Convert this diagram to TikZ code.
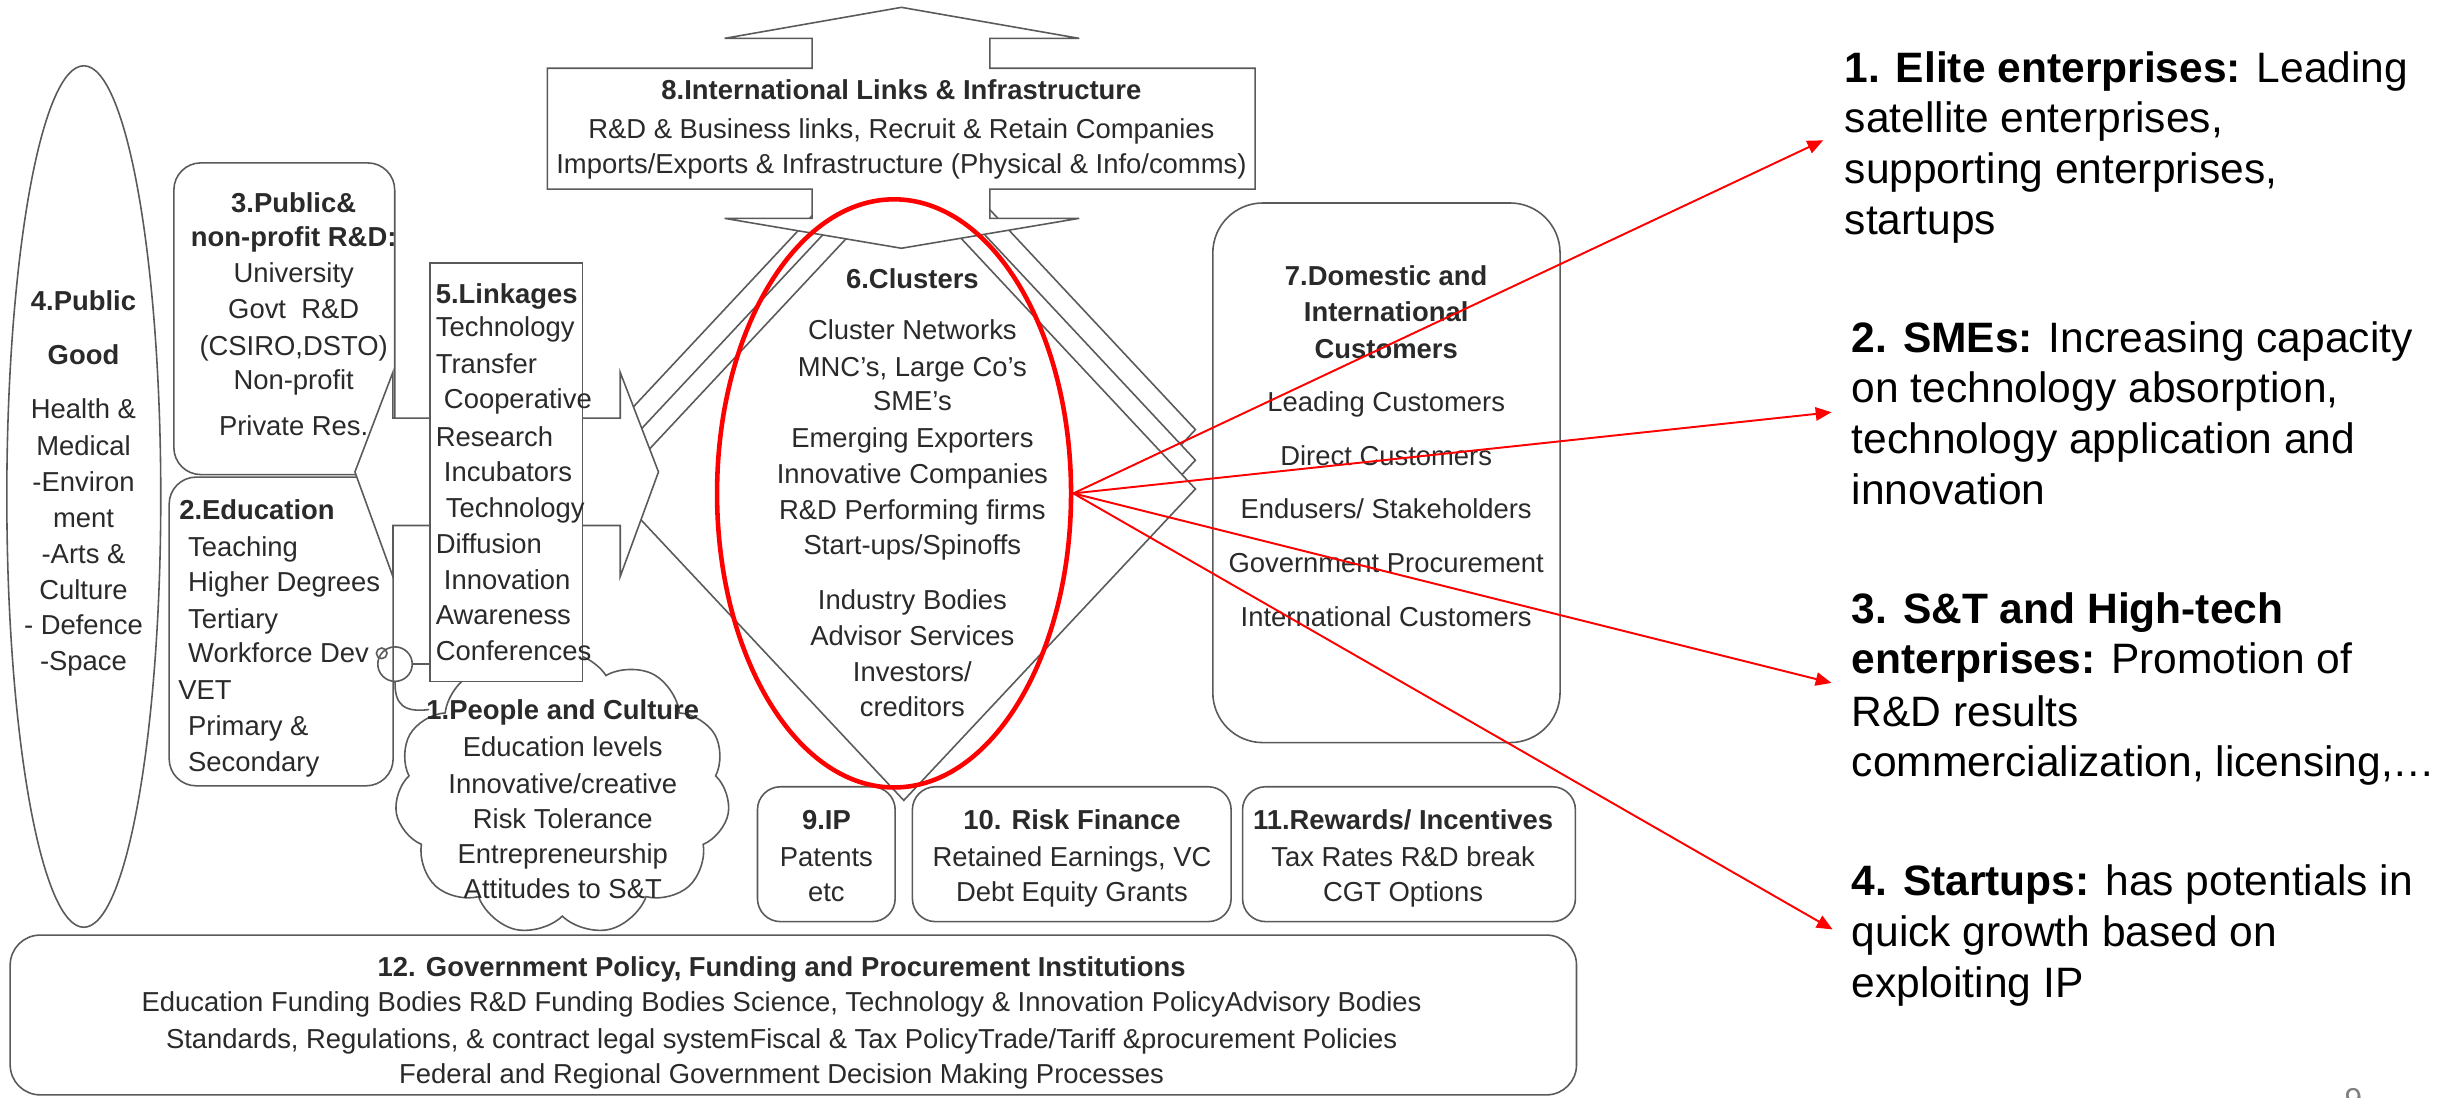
\documentclass[tikz,border=0pt]{standalone}
\usepackage{fontspec}
\setmainfont{Liberation Sans}
\usetikzlibrary{shapes.geometric,shapes.symbols,fit,arrows.meta}
\definecolor{lc}{HTML}{5A5A5A}
\definecolor{txc}{HTML}{2A2A2A}
\definecolor{rd}{HTML}{FF0000}
\def\U{0.15663mm}
\begin{document}
\begin{tikzpicture}[x=0.15663mm, y=-0.15663mm,
  ln/.style={draw=lc, line width=0.45pt},
  bx/.style={ln, fill=white, inner sep=0pt},
  tx/.style={font=\fontsize{7.8}{9}\selectfont, text=txc, inner sep=0pt, text height=5.6pt, text depth=0pt},
  rt/.style={font=\fontsize{12.1}{14.5}\selectfont, inner sep=0pt, text height=8.7pt, text depth=0pt, anchor=west, text=black},
  redarrow/.style={draw=rd, line width=0.55pt, -{Triangle[length=4.5pt,width=3.8pt]}}
]
\useasboundingbox (0,0) rectangle (1568,701);
\fill[white] (0,0) rectangle (1568,701);

% 4. Public good
\node[ellipse, ln, minimum width=98.3*\U, minimum height=550*\U, inner sep=0pt] (pg) at (53.5,317) {};
\foreach \t/\yy [count=\i] in {{\textbf{4.Public}}/192.2, {\textbf{Good}}/226.4, {Health \&}/260.6, {Medical}/284.4, {-Environ}/307.2, {ment}/330.7, {-Arts \&}/353.5, {Culture}/376.3, {- Defence}/399.1, {-Space}/421.9}
  \node[tx] (pg-\i) at (53.3,\yy) {\t};

% 3 and 2
\node[bx, rounded corners=2.7mm, fit={(111,104) (252,303)}] (b3) {};
\node[bx, rounded corners=2.7mm, fit={(108,304.6) (251,501.7)}] (b2) {};
\foreach \t/\yy [count=\i] in {{\textbf{3.Public\&}}/129.7, {\textbf{non-profit R\&D:}}/151.4, {University}/174.3, {Govt\ \ R\&D}/197, {(CSIRO,DSTO)}/220.9, {Non-profit}/242.7, {Private Res.}/272}
  \node[tx] (b3-\i) at (187.5,\yy) {\t};
\foreach \t/\xx/\yy [count=\i] in {{\textbf{2.Education}}/114/325.7, {Teaching}/119.7/349.2, {Higher Degrees}/119.7/371.4, {Tertiary}/119.7/394.9, {Workforce Dev}/119.7/417, {VET}/113.4/440.5, {Primary \&}/119.7/463.3, {Secondary}/119.7/486.1}
  \node[tx, anchor=west] (b2-\i) at (\xx,\yy) {\t};

% 1. cloud
\node[cloud, cloud puffs=11, cloud puff arc=115, aspect=1.15, ln, fill=white, minimum width=214*\U, minimum height=181*\U, inner sep=0pt] (cl) at (359,506.5) {};
\foreach \t/\yy [count=\i] in {{\textbf{1.People and Culture}}/453.3, {Education levels}/476.7, {Innovative/creative}/500.1, {Risk Tolerance}/522.5, {Entrepreneurship}/544.8, {Attitudes to S\&T}/567.2}
  \node[tx] (cl-\i) at (359.3,\yy) {\t};

% 6. cluster diamonds
\foreach \dd in {37.9,18.4,0}
  \filldraw[ln, fill=white] (577,113-\dd) -- (763.2,312.2-\dd) -- (577,511-\dd) -- (390.8,312.2-\dd) -- cycle;
\foreach \t/\yy [count=\i] in {{\textbf{6.Clusters}}/177.8, {Cluster Networks}/210.7, {MNC's, Large Co's}/234, {SME's}/256, {Emerging Exporters}/279.7, {Innovative Companies}/302.4, {R\&D Performing firms}/325.1, {Start-ups/Spinoffs}/347.6, {Industry Bodies}/383, {Advisor Services}/405.7, {Investors/}/428.7, {creditors}/451.4}
  \node[tx] (c6-\i) at (582.5,\yy) {\t};

% 5. double arrow and box
\filldraw[ln, fill=white] (226.6,301.3) -- (250.8,237.8) -- (250.8,267) -- (396,267) -- (396,237.8) -- (420.4,301.3) -- (396,368) -- (396,335.5) -- (250.8,335.5) -- (250.8,368) -- cycle;
\node[bx, fit={(274.5,168) (372,435)}] (b5) {};
\foreach \t/\xx/\yy [count=\i] in {{\textbf{5.Linkages}}/277.8/187.3, {Technology}/277.8/208.5, {Transfer}/277.8/232, {Cooperative}/283/254.8, {Research}/277.8/278.6, {Incubators}/283/301.4, {Technology}/284.2/324.2, {Diffusion}/277.8/347, {Innovation}/283/369.8, {Awareness}/277.8/392.6, {Conferences}/277.8/415.4}
  \node[tx, anchor=west] (b5-\i) at (\xx,\yy) {\t};

% thought bubbles
\node[circle, ln, minimum size=6.8*\U, inner sep=0pt] (bub1) at (243.7,417.1) {};
\node[circle, ln, minimum size=22*\U, inner sep=0pt] (bub2) at (252.2,424) {};
\coordinate (bubend) at (274,453);
\draw[ln] (bub2.east) -- (bub2.east -| b5.west);
\draw[ln] (bub2.south) .. controls (252,450) and (258,455) .. (bubend);

% 8. international links
\node[inner sep=0pt, fit={(349.5,43.6) (801.3,120.7)}] (b8) {};
\filldraw[ln, fill=white] (349.5,43.6) -- (518.5,43.6) -- (518.5,24.5) -- (462.6,24.5) -- (575.5,4.7) -- (689,24.5) -- (632,24.5) -- (632,43.6) -- (801.3,43.6) -- (801.3,120.7) -- (632,120.7) -- (632,139.4) -- (689,139.4) -- (575.5,158.5) -- (462.6,139.4) -- (518.5,139.4) -- (518.5,120.7) -- (349.5,120.7) -- cycle;
\foreach \t/\yy [count=\i] in {{\textbf{8.International Links \& Infrastructure}}/57.5, {R\&D \& Business links, Recruit \& Retain Companies}/82, {Imports/Exports \& Infrastructure (Physical \& Info/comms)}/104.3}
  \node[tx] (b8-\i) at (575.5,\yy) {\t};

% 7. customers
\node[bx, rounded corners=5mm, fit={(774.3,129.6) (996,474.1)}] (b7) {};
\foreach \t/\yy [count=\i] in {{\textbf{7.Domestic and}}/176, {\textbf{International}}/199.2, {\textbf{Customers}}/222.4, {Leading Customers}/256.6, {Direct Customers}/290.8, {Endusers/ Stakeholders}/325, {Government Procurement}/359.3, {International Customers}/393.5}
  \node[tx] (b7-\i) at (885,\yy) {\t};

% 9, 10, 11
\node[bx, rounded corners=2.3mm, fit={(483.6,502.3) (571.5,588.4)}] (b9) {};
\node[bx, rounded corners=2.3mm, fit={(582.5,502.3) (786,588.4)}] (b10) {};
\node[bx, rounded corners=2.3mm, fit={(793.3,502.3) (1005.8,588.4)}] (b11) {};
\foreach \t/\yy [count=\i] in {{\textbf{9.IP}}/523.6, {Patents}/547, {etc}/569.3}
  \node[tx] (b9-\i) at (527.6,\yy) {\t};
\foreach \t/\yy [count=\i] in {{\textbf{10. Risk Finance}}/523.6, {Retained Earnings, VC}/547, {Debt Equity Grants}/569.3}
  \node[tx] (b10-\i) at (684.4,\yy) {\t};
\foreach \t/\yy [count=\i] in {{\textbf{11.Rewards/ Incentives}}/523.6, {Tax Rates R\&D break}/547, {CGT Options}/569.3}
  \node[tx] (b11-\i) at (895.8,\yy) {\t};

% 12. government
\node[bx, rounded corners=3mm, fit={(6.5,597) (1006.5,699)}] (b12) {};
\foreach \t/\yy [count=\i] in {{\textbf{12. Government Policy, Funding and Procurement Institutions}}/617.2, {Education Funding Bodies R\&D Funding Bodies Science, Technology \& Innovation PolicyAdvisory Bodies}/639.5, {Standards, Regulations, \& contract legal systemFiscal \& Tax PolicyTrade/Tariff \&procurement Policies}/663, {Federal and Regional Government Decision Making Processes}/685.3}
  \node[tx] (b12-\i) at (499,\yy) {\t};

% red ellipse and arrows
\node[ellipse, draw=rd, line width=1.3pt, minimum width=226*\U, minimum height=375.5*\U, inner sep=0pt] (red) at (570.8,315) {};
\coordinate (t1) at (1164,89.6);
\coordinate (t2) at (1169.3,263.2);
\coordinate (t3) at (1169.3,436);
\coordinate (t4) at (1170,593.4);
\foreach \k in {1,2,3,4}
  \draw[redarrow] (red.east) -- (t\k);

% right text
\foreach \t/\xx/\yy [count=\i] in {
  {\textbf{1. Elite enterprises:} Leading}/1177.3/42.6,
  {satellite enterprises,}/1177.3/75,
  {supporting enterprises,}/1177.3/107.5,
  {startups}/1177.3/140,
  {\textbf{2. SMEs:} Increasing capacity}/1181.8/215,
  {on technology absorption,}/1181.8/247.5,
  {technology application and}/1181.8/280,
  {innovation}/1181.8/312.5,
  {\textbf{3. S\&T and High-tech}}/1181.8/388,
  {\textbf{enterprises:} Promotion of}/1181.8/420.4,
  {R\&D results}/1181.8/453.8,
  {commercialization, licensing,…}/1181.8/486.2,
  {\textbf{4. Startups:} has potentials in}/1181.8/562,
  {quick growth based on}/1181.8/594.4,
  {exploiting IP}/1181.8/626.8}
  \node[rt] (r-\i) at (\xx,\yy) {\t};

% page number
\node[font=\fontsize{9}{10}\selectfont, text=gray, anchor=north, inner sep=0pt] (pgno) at (1502.5,694.7) {9};
\end{tikzpicture}
\end{document}
